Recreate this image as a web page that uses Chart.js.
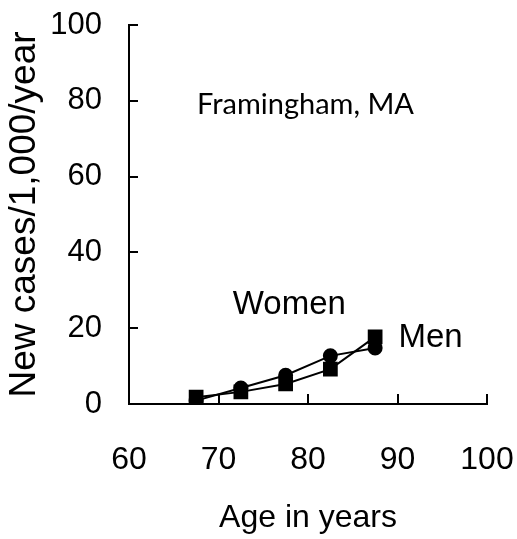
<!DOCTYPE html>
<html>
<head>
<meta charset="utf-8">
<script src="https://cdn.jsdelivr.net/npm/chart.js@4/dist/chart.umd.min.js"></script>
<style>
  html, body { margin: 0; padding: 0; background: #ffffff; }
  #wrap { width: 517px; height: 539px; }
</style>
</head>
<body>
<div id="wrap"><canvas id="c" width="517" height="539"></canvas></div>
<script>
// ---- data ----
const ages = [67.5, 72.5, 77.5, 82.5, 87.5];
const womenValues = [0.9, 4.2, 7.6, 12.7, 14.8];   // circles
const menValues = [1.8, 3.2, 5.3, 9.2, 17.7];      // squares
const xTicks = [60, 70, 80, 90, 100];
const yTicks = [0, 20, 40, 60, 80, 100];
const yTitle = 'New cases/1,000/year';
const xTitle = 'Age in years';
const noteText = 'Framingham, MA';
const womenLabel = 'Women';
const menLabel = 'Men';

const toPoints = (xs, ys) => xs.map((x, i) => ({ x: x, y: ys[i] }));

// inward tick marks + text labels placed with the chart's scales
const annotatePlugin = {
  id: 'annotate',
  afterDraw(chart) {
    const ctx = chart.ctx;
    const xs = chart.scales.x, ys = chart.scales.y;
    const area = chart.chartArea;
    ctx.save();
    ctx.strokeStyle = '#000';
    ctx.lineWidth = 2;
    ctx.beginPath();
    xTicks.forEach(v => {
      const px = Math.round(xs.getPixelForValue(v));
      ctx.moveTo(px, area.bottom);
      ctx.lineTo(px, area.bottom - 10);
    });
    yTicks.forEach(v => {
      const py = Math.round(ys.getPixelForValue(v));
      ctx.moveTo(area.left, py);
      ctx.lineTo(area.left + 9, py);
    });
    ctx.stroke();

    ctx.fillStyle = '#000';
    ctx.textBaseline = 'middle';
    ctx.textAlign = 'left';
    ctx.font = '29px Lato';
    ctx.fillText(noteText, xs.getPixelForValue(67.6), ys.getPixelForValue(78.9));
    ctx.font = '33px "Liberation Sans"';
    ctx.fillText(womenLabel, xs.getPixelForValue(71.6), ys.getPixelForValue(26.1));
    ctx.fillText(menLabel, xs.getPixelForValue(90.1), ys.getPixelForValue(17.4));
    ctx.restore();
  }
};

function zeroPad(scale) {
  scale.paddingTop = 0;
  scale.paddingBottom = 0;
  scale.paddingLeft = 0;
  scale.paddingRight = 0;
}

new Chart(document.getElementById('c'), {
  type: 'scatter',
  data: {
    datasets: [
      {
        label: womenLabel,
        data: toPoints(ages, womenValues),
        showLine: true,
        borderColor: '#000',
        backgroundColor: '#000',
        borderWidth: 2,
        pointStyle: 'circle',
        pointRadius: 6.5,
        pointHoverRadius: 6.5
      },
      {
        label: menLabel,
        data: toPoints(ages, menValues),
        showLine: true,
        borderColor: '#000',
        backgroundColor: '#000',
        borderWidth: 2,
        pointStyle: 'rect',
        pointRadius: 9,
        pointHoverRadius: 9
      }
    ]
  },
  options: {
    responsive: false,
    animation: false,
    events: [],
    layout: { padding: { top: 25, right: 30, left: 0, bottom: 0 } },
    plugins: {
      legend: { display: false },
      tooltip: { enabled: false }
    },
    scales: {
      x: {
        type: 'linear',
        min: 60,
        max: 100,
        afterBuildTicks(scale) { scale.ticks = xTicks.map(v => ({ value: v })); },
        afterFit(scale) { scale.height = 135; zeroPad(scale); },
        grid: { display: false, drawTicks: false },
        border: { display: true, color: '#000', width: 2 },
        ticks: {
          autoSkip: false,
          maxRotation: 0,
          padding: 37,
          color: '#000',
          font: { family: '"Liberation Sans", Arial, sans-serif', size: 32 }
        },
        title: {
          display: true,
          text: xTitle,
          color: '#000',
          font: { family: '"Liberation Sans", Arial, sans-serif', size: 32 },
          padding: { top: 0, bottom: 2 }
        }
      },
      y: {
        type: 'linear',
        min: 0,
        max: 100,
        afterBuildTicks(scale) { scale.ticks = yTicks.map(v => ({ value: v })); },
        afterFit(scale) { scale.width = 129; zeroPad(scale); },
        grid: { display: false, drawTicks: false },
        border: { display: true, color: '#000', width: 2 },
        ticks: {
          autoSkip: false,
          padding: 27,
          color: '#000',
          font: { family: '"Liberation Sans", Arial, sans-serif', size: 31 }
        },
        title: {
          display: true,
          text: yTitle,
          color: '#000',
          font: { family: '"Liberation Sans", Arial, sans-serif', size: 37 },
          padding: { top: 3, bottom: 0 }
        }
      }
    }
  },
  plugins: [annotatePlugin]
});
</script>
</body>
</html>
